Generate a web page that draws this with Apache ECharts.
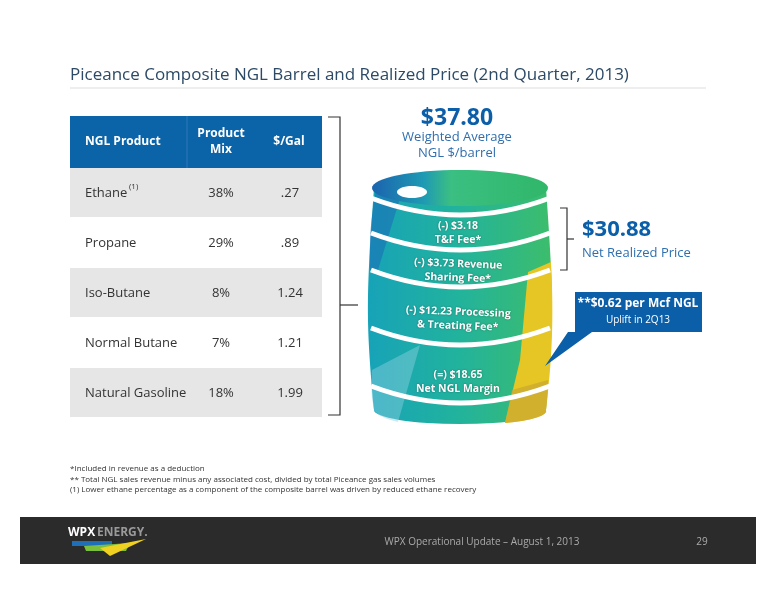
<!DOCTYPE html>
<html><head><meta charset="utf-8">
<script src="https://cdn.jsdelivr.net/npm/echarts@6/dist/echarts.min.js"></script>
<style>html,body{margin:0;padding:0;background:#fff}#main{width:776px;height:600px}</style>
</head><body><div id="main"></div>
<script>
// 表格数据
var products = ["Ethane", "Propane", "Iso-Butane", "Normal Butane", "Natural Gasoline"];
var productMix = ["38%", "29%", "8%", "7%", "18%"];
var pricePerGal = [".27", ".89", "1.24", "1.21", "1.99"];
// 桶上各层
var layerLines1 = ["(-) $3.18", "(-) $3.73 Revenue", "(-) $12.23 Processing", "(=) $18.65"];
var layerLines2 = ["T&F Fee*", "Sharing Fee*", "& Treating Fee*", "Net NGL Margin"];
var footnotes = [
  "*Included in revenue as a deduction",
  "** Total NGL sales revenue minus any associated cost, divided by total Piceance gas sales volumes",
  "(1) Lower ethane percentage as a component of the composite barrel was driven by reduced ethane recovery"
];

var myChart = echarts.init(document.getElementById("main"));
var blue = "#0b5ea8";
var font = "'Open Sans', sans-serif";
var els = [];
var shapeId = 0;

// svg路径注册成自定义形状
function svgPath(d, style) {
  var name = "svgShape" + shapeId++;
  echarts.graphic.registerShape(name, echarts.graphic.extendPath(d, {}));
  els.push({ type: name, style: style });
}
function ellipsePts(cx, cy, rx, ry) {
  var pts = [];
  for (var a = 0; a < 64; a++) {
    var t = (a / 64) * Math.PI * 2;
    pts.push([cx + rx * Math.cos(t), cy + ry * Math.sin(t)]);
  }
  return pts;
}

/*-----------------------标题-----------------------------*/
els.push({ type: "text", x: 70, y: 75, style: { text: "Piceance Composite NGL Barrel and Realized Price (2nd Quarter, 2013)", font: "17px " + font, fill: "#2c4a66", verticalAlign: "middle" } });
els.push({ type: "line", shape: { x1: 70, y1: 88, x2: 706, y2: 88 }, style: { stroke: "#ddd", lineWidth: 1 } });

/*-----------------------表格-----------------------------*/
var tx = 70, tw = 252, ty = 116, hh = 52, rh = 50;
els.push({ type: "rect", shape: { x: tx, y: ty, width: tw, height: hh }, style: { fill: "#0b63a8" } });
els.push({ type: "line", shape: { x1: 187, y1: ty, x2: 187, y2: ty + hh }, style: { stroke: "#2f7bbb", lineWidth: 1 } });
els.push({ type: "text", x: 85, y: ty + hh / 2, style: { text: "NGL Product", font: "bold 12px " + font, fill: "#fff", verticalAlign: "middle" } });
els.push({ type: "text", x: 221, y: ty + hh / 2, style: { text: "Product\nMix", font: "bold 12px " + font, fill: "#fff", align: "center", verticalAlign: "middle", lineHeight: 16 } });
els.push({ type: "text", x: 289, y: ty + hh / 2, style: { text: "$/Gal", font: "bold 12px " + font, fill: "#fff", align: "center", verticalAlign: "middle" } });
for (var i = 0; i < products.length; i++) {
  var ry = ty + hh + i * rh;
  var cy = ry + rh / 2;
  if (i % 2 == 0) {
    els.push({ type: "rect", shape: { x: tx, y: ry, width: tw, height: rh - 1 }, style: { fill: "#e6e6e6" } });
  }
  els.push({ type: "text", x: 85, y: cy, style: { text: products[i], font: "13px " + font, fill: "#333", verticalAlign: "middle" } });
  if (i == 0) {
    els.push({ type: "text", x: 129, y: cy - 6, style: { text: "(1)", font: "8px " + font, fill: "#333", verticalAlign: "middle" } });
  }
  els.push({ type: "text", x: 221, y: cy, style: { text: productMix[i], font: "13px " + font, fill: "#333", align: "center", verticalAlign: "middle" } });
  els.push({ type: "text", x: 290, y: cy, style: { text: pricePerGal[i], font: "13px " + font, fill: "#333", align: "center", verticalAlign: "middle" } });
}
// 大括号
els.push({ type: "polyline", shape: { points: [[328, 117], [340, 117], [340, 415], [328, 415]] }, style: { stroke: "#333", lineWidth: 1.2, fill: null } });
els.push({ type: "line", shape: { x1: 340, y1: 305, x2: 358, y2: 305 }, style: { stroke: "#333", lineWidth: 1.2 } });

/*-----------------------桶-----------------------------*/
els.push({ type: "text", x: 457, y: 118, style: { text: "$37.80", font: "bold 23px " + font, fill: blue, align: "center", verticalAlign: "middle" } });
els.push({ type: "text", x: 457, y: 145, style: { text: "Weighted Average\nNGL $/barrel", font: "13px " + font, fill: "#2f6fae", align: "center", verticalAlign: "middle", lineHeight: 16 } });

var bodyGrad = new echarts.graphic.LinearGradient(0, 0, 1, 0, [
  { offset: 0, color: "#17a3b8" }, { offset: 0.5, color: "#22b39c" }, { offset: 1, color: "#3dbd6b" }]);
svgPath("M374,188 C366,300 366,320 374,410 A86,14 0 0 0 546,410 C554,320 554,300 546,188 Z", { fill: bodyGrad });
// 黄色侧条
svgPath("M528,272 L551,262 C554,320 552,360 546,410 A86,14 0 0 1 505,423 L520,360 Z", { fill: "#e5c624" });
svgPath("M505,423 L512,390 L548,380 C548,395 547,403 546,410 A86,14 0 0 1 505,423 Z", { fill: "#c9a733", opacity: 0.7 });
// 左侧斜条
svgPath("M376,190 L405,182 L378,270 L370,270 C369,240 371,215 376,190 Z", { fill: "#1b6fb5", opacity: 0.6 });
svgPath("M372,370 L420,345 L398,422 C385,419 377,415 374,410 C371,395 371,385 372,370 Z", { fill: "#8fd0e0", opacity: 0.45 });
// 桶顶
var topGrad = new echarts.graphic.LinearGradient(0, 0, 1, 0, [
  { offset: 0, color: "#1b63ae" }, { offset: 0.3, color: "#1f9bb3" }, { offset: 0.45, color: "#3bbf82" }, { offset: 1, color: "#30b769" }]);
els.push({ type: "polygon", shape: { points: ellipsePts(460, 188, 88, 18) }, style: { fill: topGrad } });
els.push({ type: "polygon", shape: { points: ellipsePts(412, 192, 15, 6) }, style: { fill: "#fff" } });
// 白色箍
var ribs = [198, 233, 270, 328, 386];
for (var r = 0; r < ribs.length; r++) {
  var y0 = ribs[r];
  els.push({ type: "bezierCurve", shape: { x1: 371, y1: y0, cpx1: 460, cpy1: y0 + 34, x2: 550, y2: y0 }, style: { stroke: "#fff", lineWidth: 5, fill: null } });
}
var layerY = [233, 271, 319, 382];
for (var k = 0; k < layerLines1.length; k++) {
  els.push({ type: "text", x: 458, y: layerY[k], rotation: k == 1 || k == 2 ? -0.04 : 0, style: { text: layerLines1[k] + "\n" + layerLines2[k], font: "bold 10.5px " + font, fill: "#fff", align: "center", verticalAlign: "middle", lineHeight: 14, textShadowColor: "rgba(0,0,0,0.4)", textShadowBlur: 2 } });
}

/*-----------------------净价-----------------------------*/
els.push({ type: "polyline", shape: { points: [[560, 208], [567, 208], [567, 270], [560, 270]] }, style: { stroke: "#333", lineWidth: 1.2, fill: null } });
els.push({ type: "line", shape: { x1: 567, y1: 239, x2: 574, y2: 239 }, style: { stroke: "#333", lineWidth: 1.2 } });
els.push({ type: "text", x: 582, y: 230, style: { text: "$30.88", font: "bold 22px " + font, fill: blue, verticalAlign: "middle" } });
els.push({ type: "text", x: 582, y: 253, style: { text: "Net Realized Price", font: "13px " + font, fill: "#2f6fae", verticalAlign: "middle" } });
// 提示框
els.push({ type: "polygon", shape: { points: [[575, 292], [702, 292], [702, 332], [592, 332], [545, 366], [568, 332], [575, 332]] }, style: { fill: "#0b5ea8" } });
els.push({ type: "text", x: 638, y: 304, style: { text: "**$0.62 per Mcf NGL", font: "bold 12px " + font, fill: "#fff", align: "center", verticalAlign: "middle" } });
els.push({ type: "text", x: 638, y: 320, style: { text: "Uplift in 2Q13", font: "10px " + font, fill: "#fff", align: "center", verticalAlign: "middle" } });

/*-----------------------脚注-----------------------------*/
for (var f = 0; f < footnotes.length; f++) {
  els.push({ type: "text", x: 70, y: 469 + f * 10.5, style: { text: footnotes[f], font: "8px 'Liberation Sans Narrow', 'Open Sans', sans-serif", fill: "#333", verticalAlign: "middle" } });
}

/*-----------------------页脚-----------------------------*/
els.push({ type: "rect", shape: { x: 20, y: 517, width: 736, height: 47 }, style: { fill: "#2b2b2b" } });
els.push({ type: "text", x: 68, y: 533, style: { text: "WPX", font: "bold 12px " + font, fill: "#fff", verticalAlign: "middle" } });
els.push({ type: "text", x: 97, y: 533, style: { text: "ENERGY.", font: "bold 12px " + font, fill: "#9a9a9a", verticalAlign: "middle" } });
els.push({ type: "polygon", shape: { points: [[72, 541], [112, 541], [112, 546], [72, 546]] }, style: { fill: "#1e6fb8" } });
els.push({ type: "polygon", shape: { points: [[84, 546], [130, 543], [126, 551], [86, 551]] }, style: { fill: "#7bbf3a" } });
els.push({ type: "polygon", shape: { points: [[100, 548], [146, 539], [110, 556]] }, style: { fill: "#f0d020" } });
els.push({ type: "text", x: 482, y: 542, style: { text: "WPX Operational Update \u2013 August 1, 2013", font: "10px " + font, fill: "#aaa", align: "center", verticalAlign: "middle" } });
els.push({ type: "text", x: 702, y: 542, style: { text: "29", font: "10px " + font, fill: "#aaa", align: "center", verticalAlign: "middle" } });

var option = { backgroundColor: "#fff", graphic: { elements: els } };
myChart.setOption(option);
</script></body></html>
